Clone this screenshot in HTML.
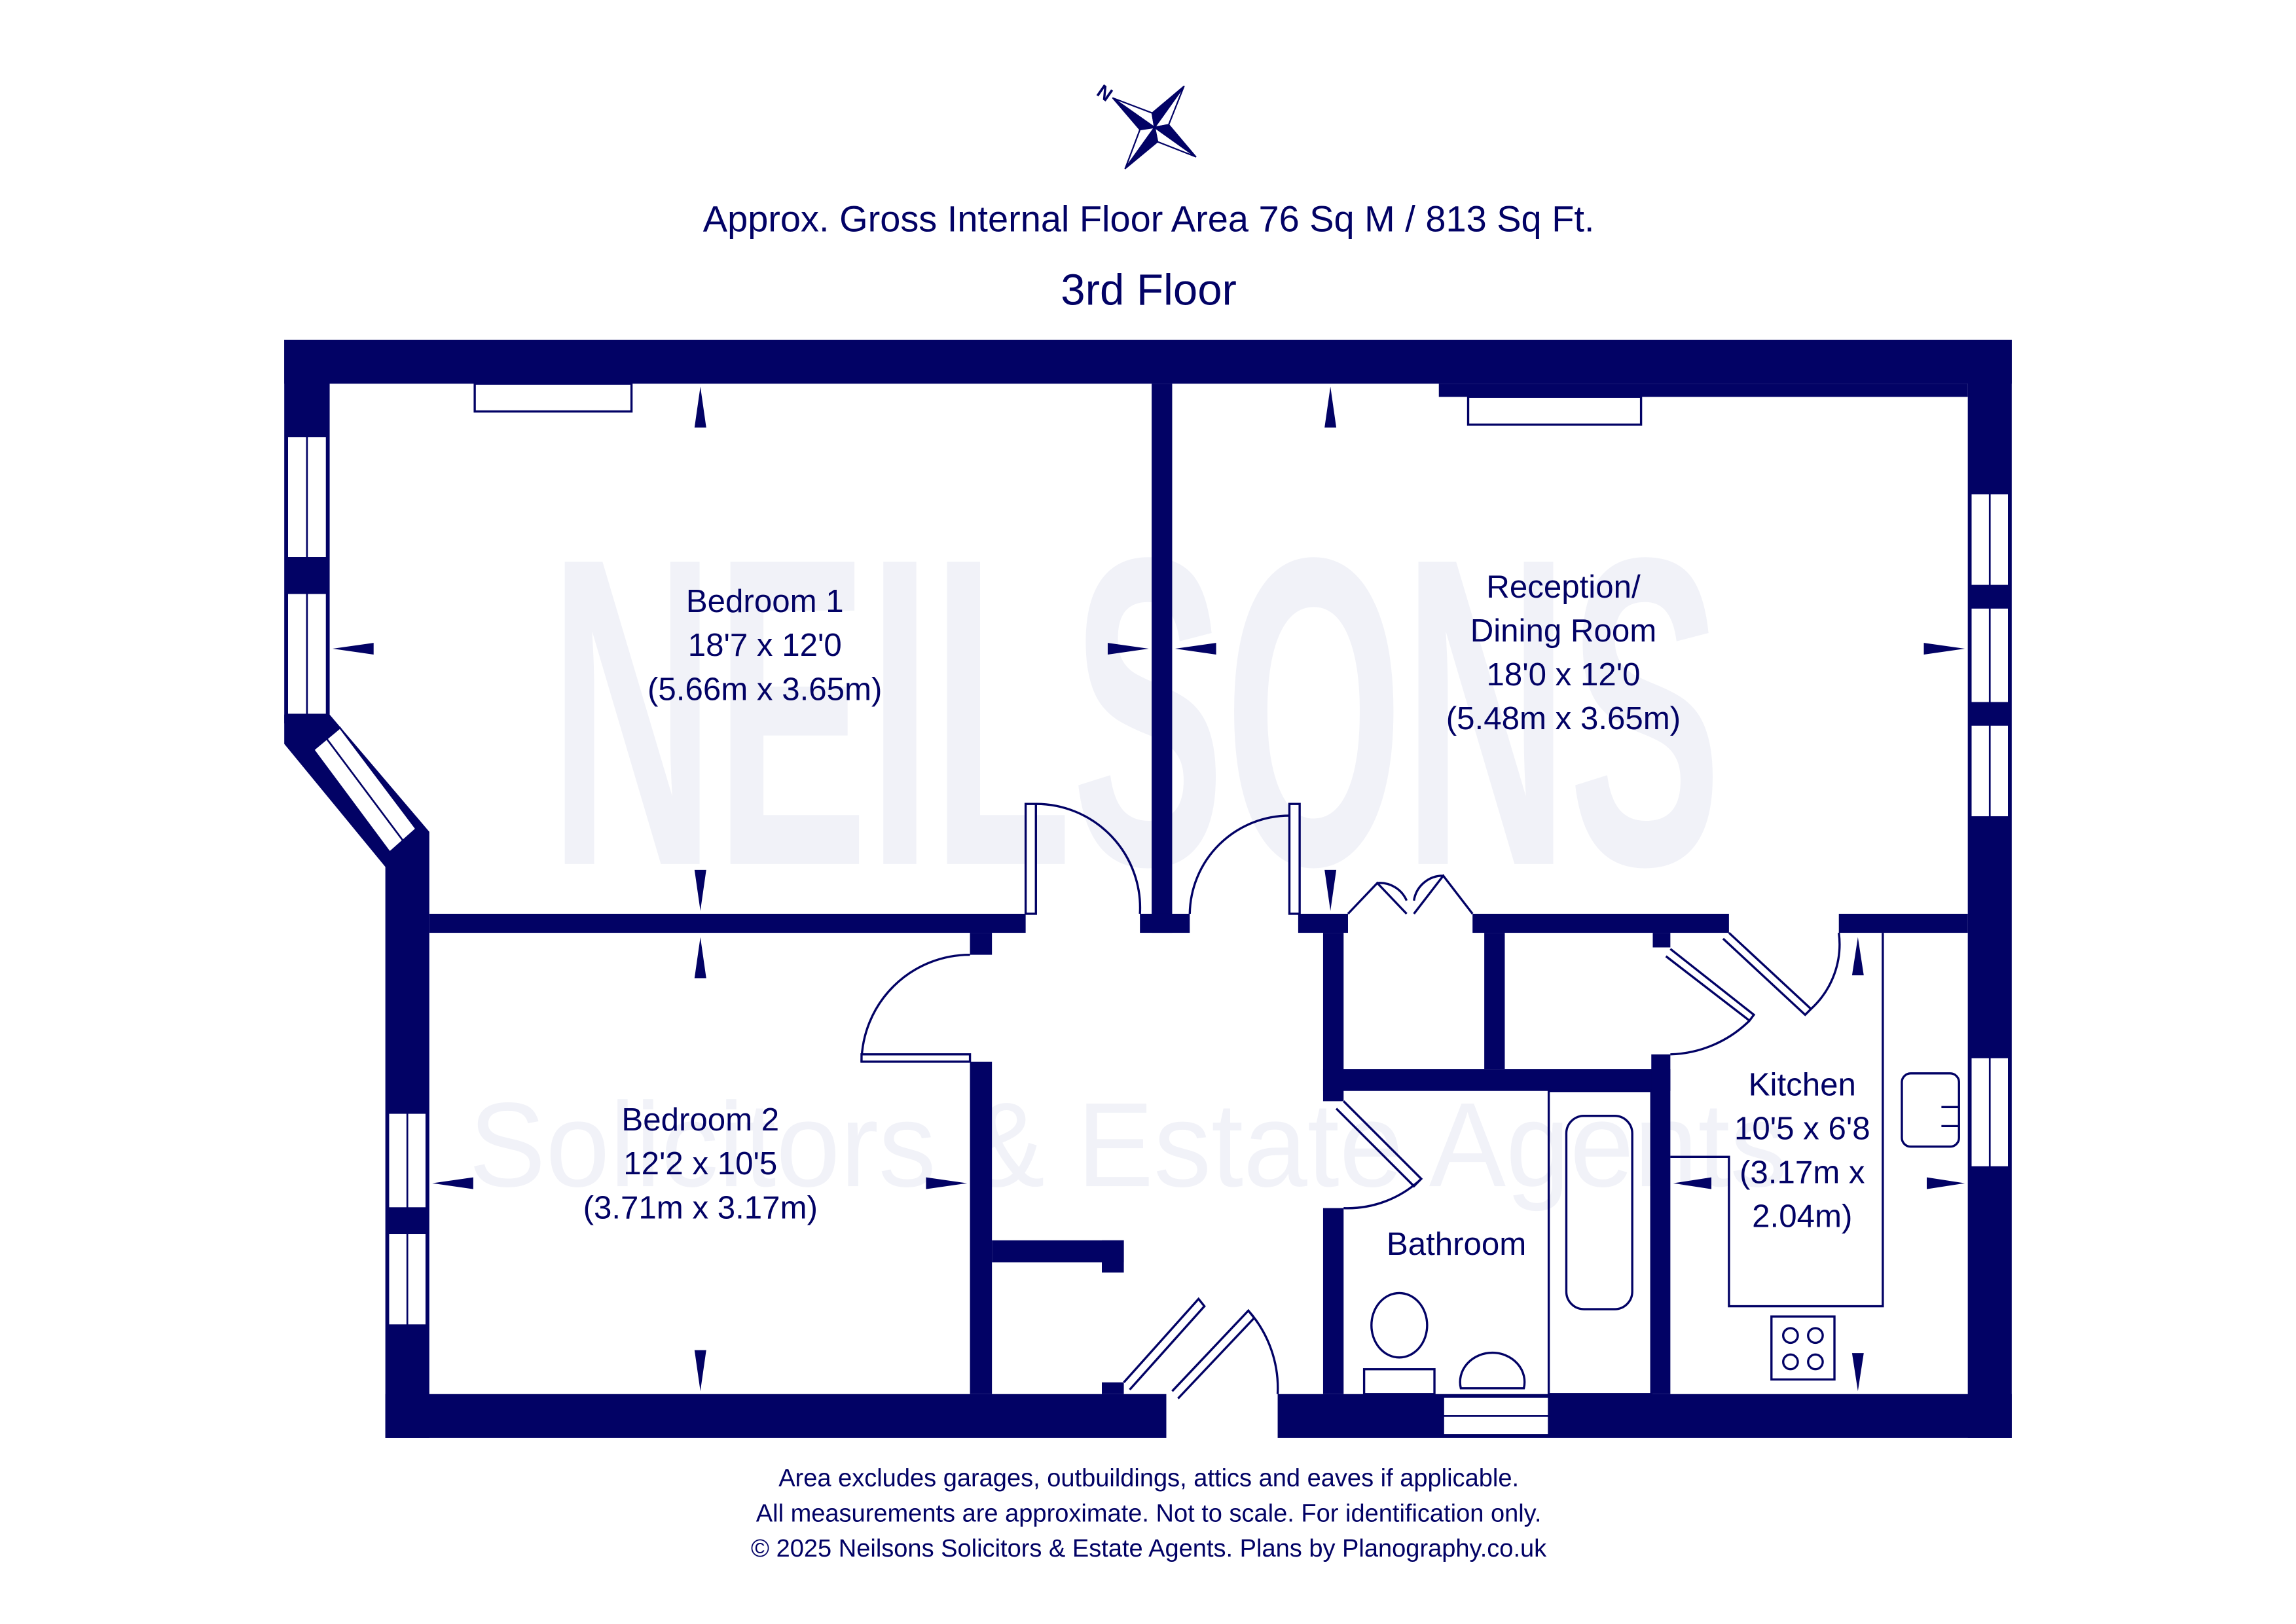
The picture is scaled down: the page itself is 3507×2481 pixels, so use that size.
<!DOCTYPE html>
<html><head><meta charset="utf-8"><style>
html,body{margin:0;padding:0;background:#fff;}
svg{display:block;}
text{font-family:"Liberation Sans",sans-serif;fill:#020265;}
</style></head><body>
<svg width="3507" height="2481" viewBox="0 0 1567 1109" preserveAspectRatio="none" xmlns="http://www.w3.org/2000/svg">
<rect width="1567" height="1109" fill="#fff"/>
<!-- watermark -->
<text x="775" y="590" font-family="Liberation Serif,serif" font-weight="bold" font-size="300" text-anchor="middle" style="fill:#f1f2f8" textLength="800" lengthAdjust="spacingAndGlyphs">NEILSONS</text>
<text x="770" y="810" font-size="82" text-anchor="middle" style="fill:#f1f2f8" textLength="900" lengthAdjust="spacingAndGlyphs">Solicitors &amp; Estate Agents</text>

<!-- compass -->
<g stroke="#020265" stroke-width="1" stroke-linejoin="round">
<polygon points="759.6,67 788,87 778,88.5" fill="#020265"/>
<polygon points="759.6,67 788,87 786.4,77.2" fill="#fff"/>
<polygon points="808,59 788,87 786.4,77.2" fill="#020265"/>
<polygon points="808,59 788,87 797.6,85.2" fill="#fff"/>
<polygon points="816,107 788,87 797.6,85.2" fill="#020265"/>
<polygon points="816,107 788,87 790,96.8" fill="#fff"/>
<polygon points="768,115 788,87 790,96.8" fill="#020265"/>
<polygon points="768,115 788,87 778,88.5" fill="#fff"/>
</g>
<text x="749" y="68" font-size="13" font-weight="bold" transform="rotate(35 754 64)">N</text>

<text x="784" y="158" font-size="25" text-anchor="middle">Approx. Gross Internal Floor Area 76 Sq M / 813 Sq Ft.</text>
<text x="784" y="208" font-size="30" text-anchor="middle">3rd Floor</text>

<g fill="#020265">
<rect x="194" y="232" width="1179" height="30"/>
<rect x="982" y="262" width="361" height="9"/>
<rect x="1343" y="232" width="30" height="750"/>
<rect x="194" y="232" width="31" height="262"/>
<polygon points="194,488 225,488 293,568 293,982 263,982 263,592 194,508"/>
<rect x="263" y="952" width="533" height="30"/>
<rect x="872" y="952" width="501" height="30"/>
<rect x="786" y="262" width="14" height="375"/>
<rect x="293" y="624" width="407" height="13"/>
<rect x="778" y="624" width="34" height="13"/>
<rect x="886" y="624" width="34" height="13"/>
<rect x="1005" y="624" width="175" height="13"/>
<rect x="1255" y="624" width="88" height="13"/>
<rect x="1128" y="637" width="12" height="10"/>
<rect x="662" y="637" width="15" height="15"/>
<rect x="662" y="725" width="15" height="227"/>
<rect x="677" y="847" width="90" height="15"/>
<rect x="752" y="847" width="15" height="22"/>
<rect x="752" y="944" width="15" height="8"/>
<rect x="903" y="637" width="14" height="115"/>
<rect x="903" y="825" width="14" height="127"/>
<rect x="903" y="730" width="237" height="15"/>
<rect x="1013" y="637" width="14" height="93"/>
<rect x="1127" y="720" width="13" height="232"/>
</g>
<g fill="#fff" stroke="#020265" stroke-width="1.2">
<rect x="196" y="298" width="27" height="83"/><line x1="209.5" y1="298" x2="209.5" y2="381"/>
<rect x="196" y="405" width="27" height="83"/><line x1="209.5" y1="405" x2="209.5" y2="488"/>
<rect x="265" y="760" width="26" height="65"/><line x1="278" y1="760" x2="278" y2="825"/>
<rect x="265" y="842" width="26" height="63"/><line x1="278" y1="842" x2="278" y2="905"/>
<rect x="1345" y="337" width="26" height="63"/><line x1="1358" y1="337" x2="1358" y2="400"/>
<rect x="1345" y="415" width="26" height="65"/><line x1="1358" y1="415" x2="1358" y2="480"/>
<rect x="1345" y="495" width="26" height="63"/><line x1="1358" y1="495" x2="1358" y2="558"/>
<rect x="1345" y="722" width="26" height="75"/><line x1="1358" y1="722" x2="1358" y2="797"/>
<rect x="985" y="954" width="72" height="26"/><line x1="985" y1="967" x2="1057" y2="967"/>
<polygon points="214,512 232,497 284,566 266,582"/><line x1="223" y1="504.5" x2="275" y2="574"/>
</g>
<g fill="#fff" stroke="#020265" stroke-width="1.5">
<rect x="324" y="262" width="107" height="19"/>
<rect x="1002" y="271" width="118" height="19"/>
</g>
<g fill="none" stroke="#020265" stroke-width="1.5">
<rect x="700" y="549" width="7" height="75" fill="#fff"/><path d="M707,549 A71,71 0 0 1 778,624"/>
<path d="M812,624 A68,68 0 0 1 880,557"/>
<rect x="880" y="549" width="7" height="75" fill="#fff"/>
<path d="M588,725 A74,74 0 0 1 662,652"/><rect x="588" y="720" width="74" height="5" fill="#fff"/>
<path d="M920,624 L940,603 L960,624 M1005,624 L985,598 L965,624 M940,603 A20,20 0 0 1 960,615 M985,598 A20,20 0 0 0 965,615"/>
<path d="M917,752 L970,805 L965,810 L912,757 M917,825 A73,73 0 0 0 970,805"/>
<path d="M767,944 L818,887 L822,892 L771,949 M872,952 A80,80 0 0 0 852,895 L800,950 M852,895 L856,900 L804,955"/>
<path d="M1140,648 L1197,693 L1194,697 L1137,653 M1140,720 A80,80 0 0 0 1194,697"/>
<path d="M1180,637 L1236,689 L1232,693 L1176,641 M1255,637 A60,60 0 0 1 1236,689"/>
<path d="M1285,637 L1285,892 L1180,892 L1180,790 L1140,790"/>
<rect x="1298" y="733" width="39" height="50" rx="6"/>
<line x1="1325" y1="756" x2="1337" y2="756"/><line x1="1325" y1="769" x2="1337" y2="769"/>
<rect x="1209" y="899" width="43" height="43"/>
<circle cx="1222" cy="912" r="5"/><circle cx="1239" cy="912" r="5"/><circle cx="1222" cy="930" r="5"/><circle cx="1239" cy="930" r="5"/>
<rect x="1057" y="745" width="70" height="207"/>
<rect x="1069" y="762" width="45" height="132" rx="12"/>
<ellipse cx="955" cy="905" rx="19" ry="22"/>
<rect x="931" y="935" width="48" height="17"/>
<path d="M997,948 A22,20 0 1 1 1040,948 Z"/>
</g>
<g fill="#020265">
<polygon points="478,264 474,292 482,292"/><polygon points="478,622 474,594 482,594"/>
<polygon points="227,443 255,439 255,447"/><polygon points="784,443 756,439 756,447"/>
<polygon points="908,264 904,292 912,292"/><polygon points="908,622 904,594 912,594"/>
<polygon points="802,443 830,439 830,447"/><polygon points="1341,443 1313,439 1313,447"/>
<polygon points="478,640 474,668 482,668"/><polygon points="478,950 474,922 482,922"/>
<polygon points="295,808 323,804 323,812"/><polygon points="660,808 632,804 632,812"/>
<polygon points="1268,640 1264,666 1272,666"/><polygon points="1268,950 1264,924 1272,924"/>
<polygon points="1142,808 1168,804 1168,812"/><polygon points="1341,808 1315,804 1315,812"/>
</g>
<g font-size="22" text-anchor="middle">
<text x="522" y="418">Bedroom 1</text><text x="522" y="448">18'7 x 12'0</text><text x="522" y="478">(5.66m x 3.65m)</text>
<text x="1067" y="408">Reception/</text><text x="1067" y="438">Dining Room</text><text x="1067" y="468">18'0 x 12'0</text><text x="1067" y="498">(5.48m x 3.65m)</text>
<text x="478" y="772">Bedroom 2</text><text x="478" y="802">12'2 x 10'5</text><text x="478" y="832">(3.71m x 3.17m)</text>
<text x="1230" y="748">Kitchen</text><text x="1230" y="778">10'5 x 6'8</text><text x="1230" y="808">(3.17m x</text><text x="1230" y="838">2.04m)</text>
<text x="994" y="857">Bathroom</text>
</g>
<g font-size="17" text-anchor="middle">
<text x="784" y="1015">Area excludes garages, outbuildings, attics and eaves if applicable.</text>
<text x="784" y="1039">All measurements are approximate. Not to scale. For identification only.</text>
<text x="784" y="1063">© 2025 Neilsons Solicitors &amp; Estate Agents. Plans by Planography.co.uk</text>
</g>
</svg>
</body></html>
